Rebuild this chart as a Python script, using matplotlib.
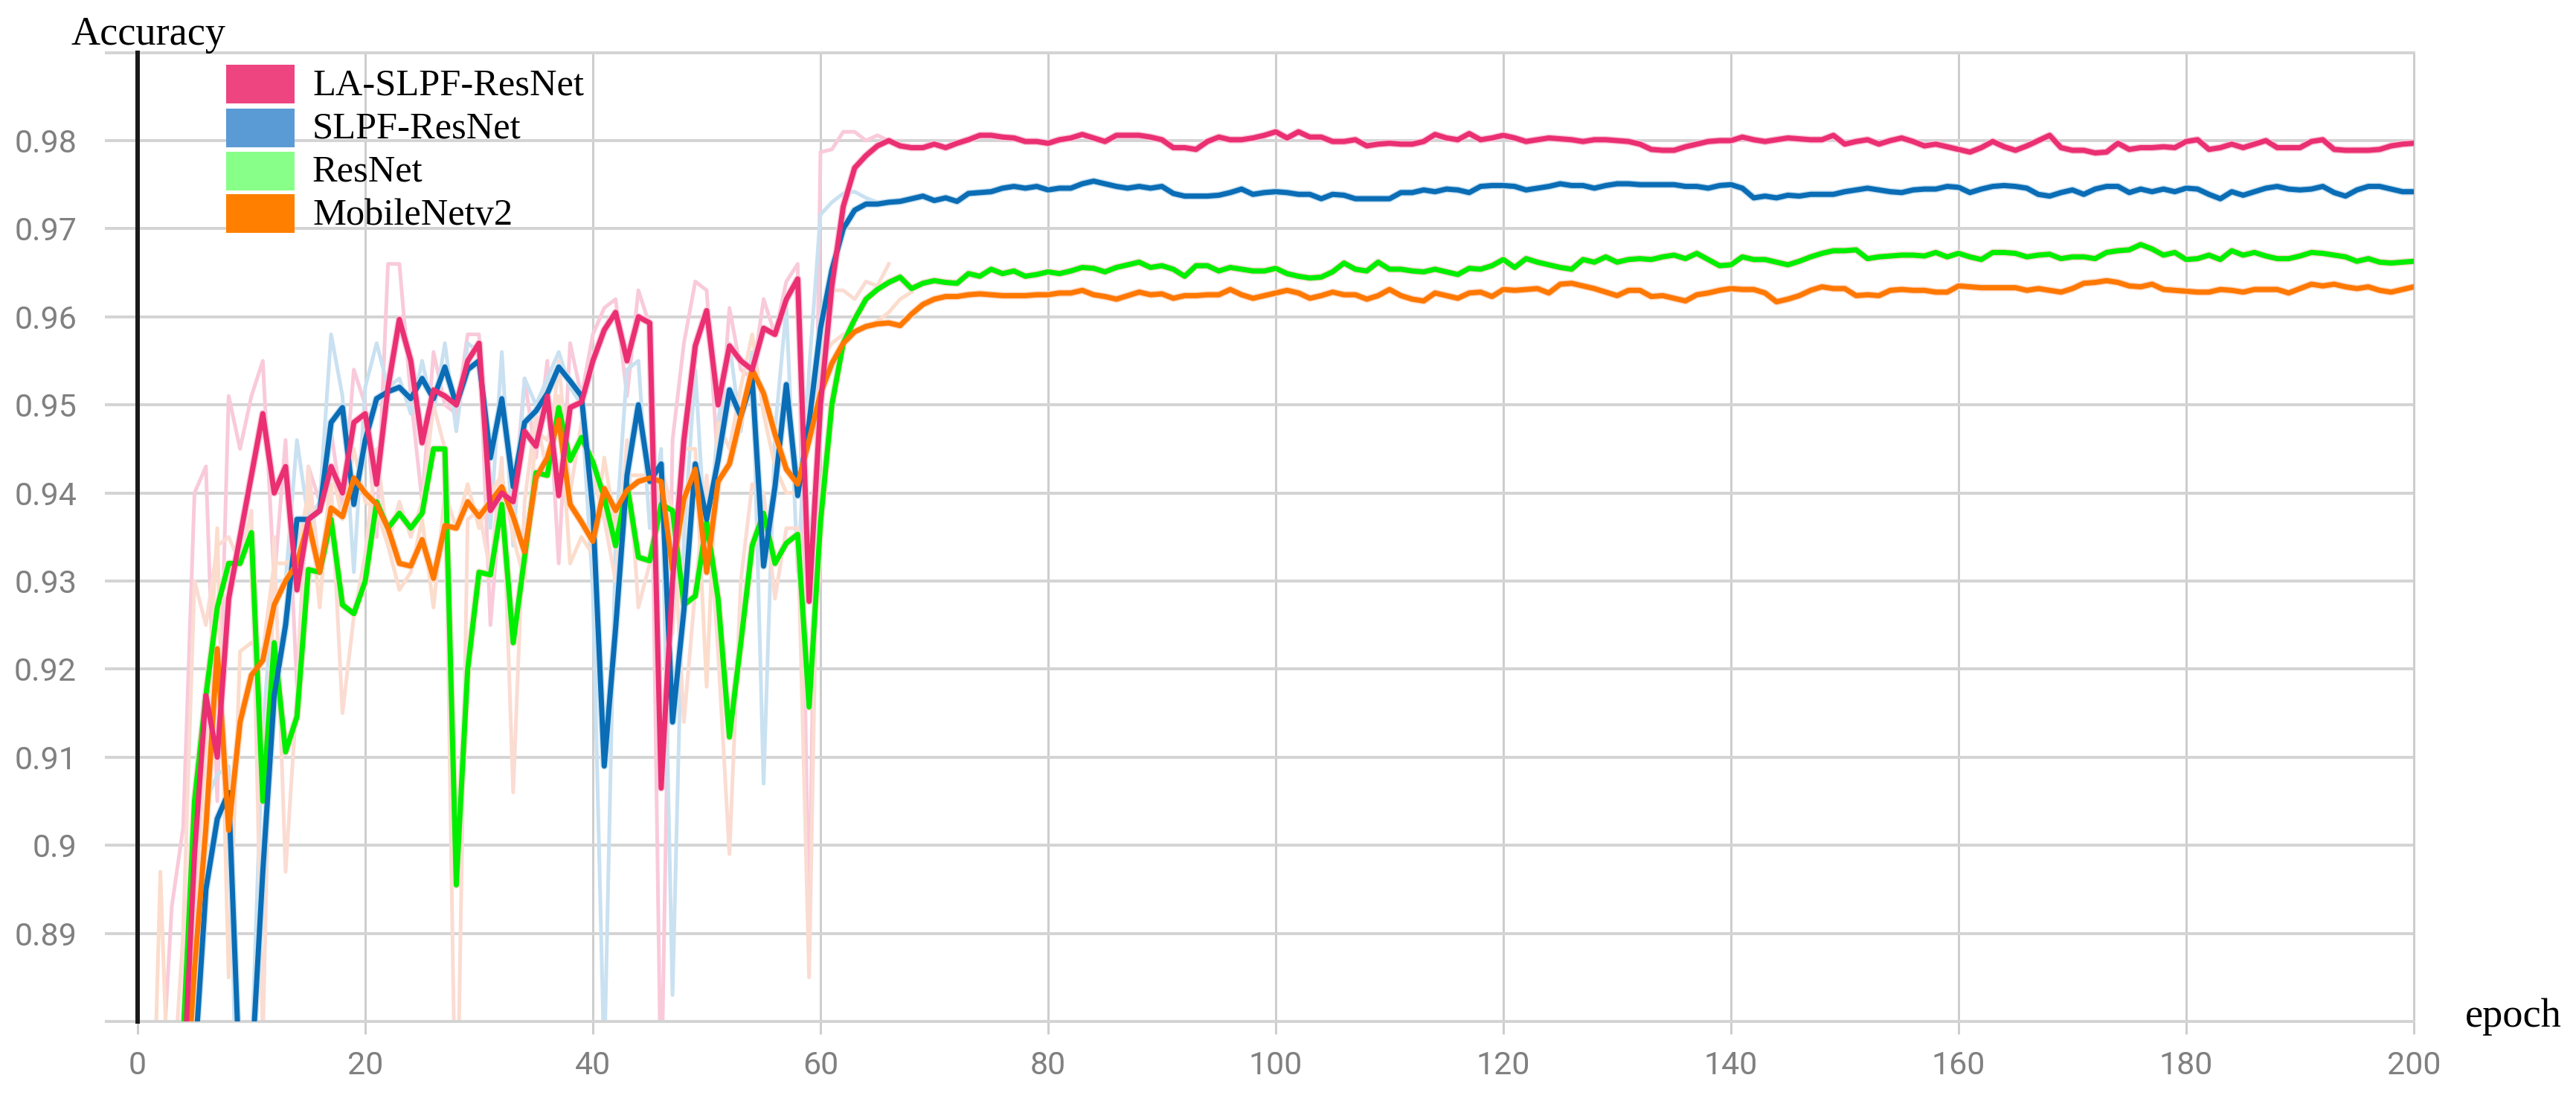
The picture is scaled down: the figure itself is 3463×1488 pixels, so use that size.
import numpy as np
import matplotlib
matplotlib.use("Agg")
import matplotlib.pyplot as plt
from matplotlib.patches import Rectangle

# ---------------- data ----------------
epochs = np.arange(1, 201)
series_names = ["LA-SLPF-ResNet", "SLPF-ResNet", "ResNet", "MobileNetv2"]

la_smooth = [
    0.862, 0.862, 0.865, 0.872, 0.899, 0.917, 0.910, 0.928, 0.935, 0.942,
    0.949, 0.940, 0.943, 0.929, 0.937, 0.938, 0.943, 0.940, 0.948, 0.949,
    0.941, 0.952, 0.9597, 0.955, 0.9457, 0.9517, 0.951, 0.950, 0.955, 0.957,
    0.938, 0.940, 0.939, 0.947, 0.9453, 0.951, 0.9397, 0.9497, 0.9503, 0.955,
    0.9585, 0.9605, 0.955, 0.960, 0.9593, 0.9065, 0.930, 0.946, 0.9567, 0.9607,
    0.950, 0.9567, 0.955, 0.954, 0.9587, 0.958, 0.962, 0.9643, 0.9277, 0.950,
    0.9635, 0.9725, 0.9769, 0.9783, 0.9794, 0.9800, 0.9794, 0.9792, 0.9792, 0.9796,
    0.9792, 0.9797, 0.9801, 0.9806, 0.9806, 0.9804, 0.9803, 0.9799, 0.9799, 0.9797,
    0.9801, 0.9803, 0.9807, 0.9803, 0.9799, 0.9806, 0.9806, 0.9806, 0.9804, 0.9801,
    0.9792, 0.9792, 0.9790, 0.9799, 0.9804, 0.9801, 0.9801, 0.9803, 0.9806, 0.9810,
    0.9803, 0.9810, 0.9804, 0.9804, 0.9799, 0.9799, 0.9801, 0.9794, 0.9796, 0.9797,
    0.9796, 0.9796, 0.9799, 0.9807, 0.9803, 0.9801, 0.9808, 0.9801, 0.9803, 0.9806,
    0.9803, 0.9799, 0.9801, 0.9803, 0.9802, 0.9801, 0.9799, 0.9801, 0.9801, 0.9800,
    0.9799, 0.9796, 0.9790, 0.9789, 0.9789, 0.9793, 0.9796, 0.9799, 0.9800, 0.9800,
    0.9804, 0.9801, 0.9799, 0.9801, 0.9803, 0.9802, 0.9801, 0.9801, 0.9806, 0.9796,
    0.9799, 0.9801, 0.9796, 0.9800, 0.9803, 0.9799, 0.9794, 0.9796, 0.9793, 0.9790,
    0.9787, 0.9792, 0.9799, 0.9793, 0.9789, 0.9794, 0.9800, 0.9806, 0.9792, 0.9789,
    0.9789, 0.9786, 0.9787, 0.9797, 0.9790, 0.9792, 0.9792, 0.9793, 0.9792, 0.9799,
    0.9801, 0.9790, 0.9792, 0.9796, 0.9792, 0.9796, 0.9800, 0.9792, 0.9792, 0.9792,
    0.9799, 0.9801, 0.9790, 0.9789, 0.9789, 0.9789, 0.9790, 0.9794, 0.9796, 0.9797,
]

slpf_smooth = [
    0.860, 0.860, 0.860, 0.862, 0.875, 0.895, 0.903, 0.906, 0.872, 0.874,
    0.897, 0.917, 0.925, 0.937, 0.937, 0.938, 0.948, 0.9497, 0.9387, 0.946,
    0.9507, 0.9515, 0.952, 0.9507, 0.953, 0.9507, 0.9543, 0.950, 0.954, 0.955,
    0.944, 0.9507, 0.9407, 0.948, 0.9493, 0.9513, 0.9543, 0.9527, 0.951, 0.938,
    0.909, 0.9247, 0.942, 0.950, 0.9413, 0.9433, 0.914, 0.9267, 0.9433, 0.937,
    0.9437, 0.9517, 0.9487, 0.953, 0.9317, 0.9407, 0.9523, 0.9397, 0.948, 0.9587,
    0.9653, 0.970, 0.9721, 0.9728, 0.9728, 0.9730, 0.9731, 0.9734, 0.9737, 0.9732,
    0.9735, 0.9731, 0.9740, 0.9741, 0.9742, 0.9746, 0.9748, 0.9746, 0.9748, 0.9744,
    0.9746, 0.9746, 0.9751, 0.9754, 0.9751, 0.9748, 0.9746, 0.9748, 0.9746, 0.9748,
    0.9740, 0.9737, 0.9737, 0.9737, 0.9738, 0.9741, 0.9745, 0.9739, 0.9741, 0.9742,
    0.9741, 0.9739, 0.9739, 0.9734, 0.9739, 0.9738, 0.9734, 0.9734, 0.9734, 0.9734,
    0.9741, 0.9741, 0.9744, 0.9742, 0.9745, 0.9744, 0.9741, 0.9748, 0.9749, 0.9749,
    0.9748, 0.9744, 0.9746, 0.9748, 0.9751, 0.9749, 0.9749, 0.9746, 0.9749, 0.9751,
    0.9751, 0.9750, 0.9750, 0.9750, 0.9750, 0.9748, 0.9748, 0.9746, 0.9749, 0.9750,
    0.9746, 0.9735, 0.9737, 0.9735, 0.9738, 0.9737, 0.9739, 0.9739, 0.9739, 0.9742,
    0.9744, 0.9746, 0.9744, 0.9742, 0.9741, 0.9744, 0.9745, 0.9745, 0.9748, 0.9747,
    0.9741, 0.9745, 0.9748, 0.9749, 0.9748, 0.9746, 0.9739, 0.9737, 0.9741, 0.9744,
    0.9739, 0.9745, 0.9748, 0.9748, 0.9741, 0.9745, 0.9742, 0.9745, 0.9742, 0.9746,
    0.9745, 0.9739, 0.9734, 0.9742, 0.9738, 0.9742, 0.9746, 0.9748, 0.9745, 0.9744,
    0.9745, 0.9748, 0.9741, 0.9737, 0.9744, 0.9748, 0.9748, 0.9745, 0.9742, 0.9742,
]

resnet_smooth = [
    0.860, 0.860, 0.862, 0.878, 0.905, 0.917, 0.927, 0.932, 0.932, 0.9355,
    0.905, 0.923, 0.9106, 0.9146, 0.9313, 0.931, 0.937, 0.9273, 0.9263, 0.930,
    0.939, 0.936, 0.9377, 0.936, 0.9377, 0.945, 0.945, 0.8955, 0.920, 0.931,
    0.9307, 0.9387, 0.923, 0.9327, 0.9423, 0.942, 0.9497, 0.9437, 0.9463, 0.9435,
    0.9395, 0.934, 0.941, 0.9327, 0.9323, 0.9387, 0.938, 0.9273, 0.9283, 0.9367,
    0.928, 0.9123, 0.923, 0.934, 0.9377, 0.932, 0.9343, 0.9353, 0.9157, 0.9367,
    0.950, 0.957, 0.9597, 0.962, 0.9631, 0.9639, 0.9645, 0.9632, 0.9638, 0.9641,
    0.9639, 0.9638, 0.9649, 0.9646, 0.9654, 0.9649, 0.9652, 0.9646, 0.9648, 0.9651,
    0.9649, 0.9652, 0.9656, 0.9655, 0.9651, 0.9656, 0.9659, 0.9662, 0.9656, 0.9658,
    0.9654, 0.9646, 0.9658, 0.9658, 0.9652, 0.9656, 0.9654, 0.9652, 0.9652, 0.9655,
    0.9649, 0.9646, 0.9644, 0.9645, 0.9651, 0.9661, 0.9654, 0.9652, 0.9662, 0.9654,
    0.9654, 0.9652, 0.9651, 0.9654, 0.9651, 0.9648, 0.9655, 0.9654, 0.9658, 0.9665,
    0.9656, 0.9666, 0.9662, 0.9659, 0.9656, 0.9654, 0.9665, 0.9662, 0.9668, 0.9662,
    0.9665, 0.9666, 0.9665, 0.9668, 0.9670, 0.9666, 0.9672, 0.9665, 0.9658, 0.9659,
    0.9668, 0.9665, 0.9665, 0.9662, 0.9659, 0.9663, 0.9668, 0.9672, 0.9675, 0.9675,
    0.9676, 0.9666, 0.9668, 0.9669, 0.9670, 0.9670, 0.9669, 0.9673, 0.9668, 0.9672,
    0.9668, 0.9665, 0.9673, 0.9673, 0.9672, 0.9668, 0.9670, 0.9671, 0.9666, 0.9668,
    0.9668, 0.9666, 0.9673, 0.9675, 0.9676, 0.9682, 0.9677, 0.9670, 0.9673, 0.9665,
    0.9666, 0.9670, 0.9665, 0.9675, 0.9670, 0.9673, 0.9669, 0.9666, 0.9666, 0.9669,
    0.9673, 0.9672, 0.9670, 0.9668, 0.9663, 0.9666, 0.9662, 0.9661, 0.9662, 0.9663,
]

mobile_smooth = [
    0.860, 0.860, 0.860, 0.866, 0.886, 0.902, 0.9223, 0.9017, 0.914, 0.9193,
    0.921, 0.9273, 0.930, 0.932, 0.9367, 0.931, 0.9383, 0.9373, 0.9417, 0.940,
    0.9387, 0.936, 0.932, 0.9317, 0.9347, 0.9303, 0.9363, 0.936, 0.939, 0.9373,
    0.939, 0.9407, 0.9373, 0.9333, 0.9417, 0.944, 0.9483, 0.9387, 0.9367, 0.9345,
    0.9405, 0.938, 0.9403, 0.9413, 0.9417, 0.9413, 0.9313, 0.9393, 0.9427, 0.931,
    0.9413, 0.9433, 0.9487, 0.954, 0.9513, 0.9467, 0.9427, 0.941, 0.946, 0.9513,
    0.9547, 0.957, 0.9583, 0.9589, 0.9592, 0.9593, 0.9590, 0.9603, 0.9614, 0.9620,
    0.9623, 0.9623, 0.9625, 0.9626, 0.9625, 0.9624, 0.9624, 0.9624, 0.9625, 0.9625,
    0.9627, 0.9627, 0.9630, 0.9625, 0.9623, 0.9620, 0.9624, 0.9628, 0.9625, 0.9626,
    0.9621, 0.9624, 0.9624, 0.9625, 0.9625, 0.9631, 0.9625, 0.9621, 0.9624, 0.9627,
    0.9630, 0.9627, 0.9621, 0.9624, 0.9628, 0.9625, 0.9625, 0.9620, 0.9624, 0.9631,
    0.9624, 0.9620, 0.9618, 0.9627, 0.9624, 0.9621, 0.9627, 0.9628, 0.9623, 0.9631,
    0.9630, 0.9631, 0.9632, 0.9627, 0.9637, 0.9638, 0.9635, 0.9632, 0.9628, 0.9624,
    0.9630, 0.9630, 0.9623, 0.9624, 0.9621, 0.9618, 0.9625, 0.9627, 0.9630, 0.9632,
    0.9631, 0.9631, 0.9627, 0.9617, 0.9620, 0.9624, 0.9630, 0.9634, 0.9632, 0.9632,
    0.9624, 0.9625, 0.9624, 0.9630, 0.9631, 0.9630, 0.9630, 0.9628, 0.9628, 0.9635,
    0.9634, 0.9633, 0.9633, 0.9633, 0.9633, 0.9630, 0.9632, 0.9630, 0.9628, 0.9632,
    0.9638, 0.9639, 0.9641, 0.9639, 0.9635, 0.9634, 0.9637, 0.9631, 0.9630, 0.9629,
    0.9628, 0.9628, 0.9631, 0.9630, 0.9628, 0.9631, 0.9631, 0.9631, 0.9627, 0.9632,
    0.9637, 0.9635, 0.9637, 0.9634, 0.9632, 0.9634, 0.9630, 0.9628, 0.9631, 0.9634,
]

# raw (unsmoothed) curves, early epochs, starting at epoch 1
la_raw = [
    0.855, 0.870, 0.893, 0.902, 0.940, 0.943, 0.905, 0.951, 0.945, 0.951,
    0.955, 0.930, 0.946, 0.918, 0.943, 0.939, 0.947, 0.938, 0.954, 0.950,
    0.935, 0.966, 0.966, 0.951, 0.939, 0.956, 0.950, 0.949, 0.958, 0.958,
    0.925, 0.941, 0.938, 0.953, 0.944, 0.955, 0.932, 0.957, 0.951, 0.958,
    0.961, 0.962, 0.951, 0.963, 0.959, 0.870, 0.946, 0.957, 0.964, 0.963,
    0.943, 0.961, 0.954, 0.953, 0.962, 0.958, 0.964, 0.966, 0.890, 0.9787,
    0.979, 0.981, 0.981, 0.980, 0.9806, 0.980,
]
slpf_raw = [
    0.850, 0.850, 0.860, 0.870, 0.885, 0.905, 0.908, 0.909, 0.850, 0.876,
    0.913, 0.930, 0.930, 0.946, 0.937, 0.939, 0.958, 0.951, 0.931, 0.952,
    0.957, 0.952, 0.953, 0.949, 0.955, 0.949, 0.957, 0.947, 0.957, 0.956,
    0.936, 0.956, 0.934, 0.953, 0.950, 0.953, 0.956, 0.952, 0.950, 0.929,
    0.875, 0.935, 0.954, 0.955, 0.936, 0.945, 0.883, 0.935, 0.954, 0.932,
    0.948, 0.957, 0.947, 0.956, 0.907, 0.947, 0.961, 0.931, 0.954, 0.9716,
    0.973, 0.974, 0.9742, 0.9735, 0.973, 0.973,
]
resnet_raw = [
    0.850, 0.860, 0.870, 0.890, 0.930, 0.925, 0.934, 0.935, 0.932, 0.938,
    0.878, 0.935, 0.897, 0.917, 0.943, 0.931, 0.941, 0.915, 0.926, 0.933,
    0.945, 0.934, 0.939, 0.935, 0.939, 0.950, 0.945, 0.862, 0.937, 0.938,
    0.931, 0.944, 0.906, 0.939, 0.949, 0.942, 0.955, 0.940, 0.948, 0.942,
    0.937, 0.930, 0.946, 0.927, 0.932, 0.943, 0.938, 0.914, 0.929, 0.942,
    0.922, 0.899, 0.930, 0.941, 0.940, 0.928, 0.936, 0.936, 0.885, 0.955,
    0.963, 0.963, 0.962, 0.964, 0.9635, 0.966,
]
mobile_raw = [
    0.850, 0.897, 0.860, 0.875, 0.893, 0.912, 0.936, 0.885, 0.922, 0.923,
    0.922, 0.932, 0.932, 0.933, 0.940, 0.927, 0.943, 0.937, 0.945, 0.939,
    0.938, 0.934, 0.929, 0.931, 0.937, 0.927, 0.940, 0.936, 0.941, 0.936,
    0.940, 0.942, 0.935, 0.930, 0.947, 0.946, 0.951, 0.932, 0.935, 0.933,
    0.944, 0.936, 0.942, 0.942, 0.942, 0.941, 0.924, 0.945, 0.945, 0.918,
    0.948, 0.945, 0.952, 0.958, 0.949, 0.943, 0.940, 0.940, 0.950, 0.955,
    0.957, 0.958, 0.9585, 0.959, 0.9595, 0.9605, 0.962, 0.9628,
]

y_ticks = [0.88, 0.89, 0.90, 0.91, 0.92, 0.93, 0.94, 0.95, 0.96, 0.97, 0.98, 0.99]
y_tick_labels = ["", "0.89", "0.9", "0.91", "0.92", "0.93", "0.94", "0.95",
                 "0.96", "0.97", "0.98", ""]
x_ticks = [0, 20, 40, 60, 80, 100, 120, 140, 160, 180, 200]

# ---------------- style ----------------
W, H, DPI = 3463, 1488, 200
PT = 72.0 / DPI  # points per pixel

line_colors = ["#EA2F72", "#0A6DB5", "#00EE00", "#FF7800"]
raw_colors = ["#F9CADA", "#C9E1F1", "#FBDCD2", "#FCDCCB"]
legend_colors = ["#EE4480", "#5B9BD5", "#88FF88", "#FF7F00"]
tick_fonts = ["Liberation Sans Narrow", "Roboto", "DejaVu Sans"]
serif_fonts = ["Liberation Serif", "DejaVu Serif"]
grid_col = "#d4d4d4"

fig = plt.figure(figsize=(W / DPI, H / DPI), dpi=DPI)
fig.patch.set_facecolor("white")

x0, x1 = 185, 3245
y_top, y_bot = 70.6, 1373
ax = fig.add_axes([x0 / W, 1 - y_bot / H, (x1 - x0) / W, (y_bot - y_top) / H])
ax.set_xlim(0, 200)
ax.set_ylim(0.88, 0.99)
ax.set_axisbelow(True)

ax.set_yticks(y_ticks)
ax.set_yticklabels(y_tick_labels)
ax.set_xticks(x_ticks)
ax.set_xticklabels([str(t) for t in x_ticks])

ax.grid(axis="y", color=grid_col, lw=4 * PT)
ax.grid(axis="x", color="#cdcdcd", lw=3 * PT)

for side in ["top", "right", "bottom"]:
    ax.spines[side].set_color(grid_col)
    ax.spines[side].set_linewidth(4 * PT)
ax.spines["right"].set_color("#cdcdcd")
ax.spines["right"].set_linewidth(3 * PT)
ax.spines["left"].set_color("#1a1a1a")
ax.spines["left"].set_linewidth(6 * PT)
ax.spines["left"].set_zorder(5)

ax.tick_params(axis="y", direction="out", length=44 * PT, width=4 * PT,
               color=grid_col, pad=38 * PT, labelsize=15.5, labelcolor="#808080")
ax.tick_params(axis="x", direction="out", length=17 * PT, width=3 * PT,
               color="#cdcdcd", pad=22 * PT, labelsize=15.5, labelcolor="#808080")
for lab in ax.get_xticklabels() + ax.get_yticklabels():
    lab.set_family(tick_fonts)

raws = [la_raw, slpf_raw, resnet_raw, mobile_raw]
smooths = [la_smooth, slpf_smooth, resnet_smooth, mobile_smooth]

for raw, c in zip(raws, raw_colors):
    ax.plot(epochs[:len(raw)], raw, color=c, lw=5 * PT, solid_joinstyle="round", zorder=2)

draw_order = [2, 1, 3, 0]
for k, i in enumerate(draw_order):
    # soft halo under the plateau part, like the faint raw trace behind it
    ax.plot(epochs, smooths[i], color=raw_colors[i], lw=10 * PT,
            solid_joinstyle="round", zorder=2.5)
for k, i in enumerate(draw_order):
    ax.plot(epochs, smooths[i], color=line_colors[i], lw=7 * PT,
            solid_joinstyle="round", solid_capstyle="round", zorder=3 + k)

# ---------------- legend (manual) ----------------
sq_left, sq_w, sq_h = 304, 92, 52
row_tops = [87, 146, 204, 261]
row_base = [127, 185, 244, 302]
for name, col, top, base in zip(series_names, legend_colors, row_tops, row_base):
    fig.patches.append(Rectangle((sq_left / W, 1 - (top + sq_h) / H), sq_w / W, sq_h / H,
                                 transform=fig.transFigure, facecolor=col,
                                 edgecolor="none", zorder=10))
    fig.text(420 / W, 1 - base / H, name, fontsize=18.2, family=serif_fonts,
             va="baseline", ha="left", color="#000000", zorder=10)

fig.text(95 / W, 1 - 60 / H, "Accuracy", fontsize=19.6, family=serif_fonts,
         va="baseline", ha="left", color="#000000")
fig.text(3314 / W, 1 - 1380 / H, "epoch", fontsize=19.6, family=serif_fonts,
         va="baseline", ha="left", color="#000000")

fig.savefig("out.png", dpi=DPI, facecolor="white")
